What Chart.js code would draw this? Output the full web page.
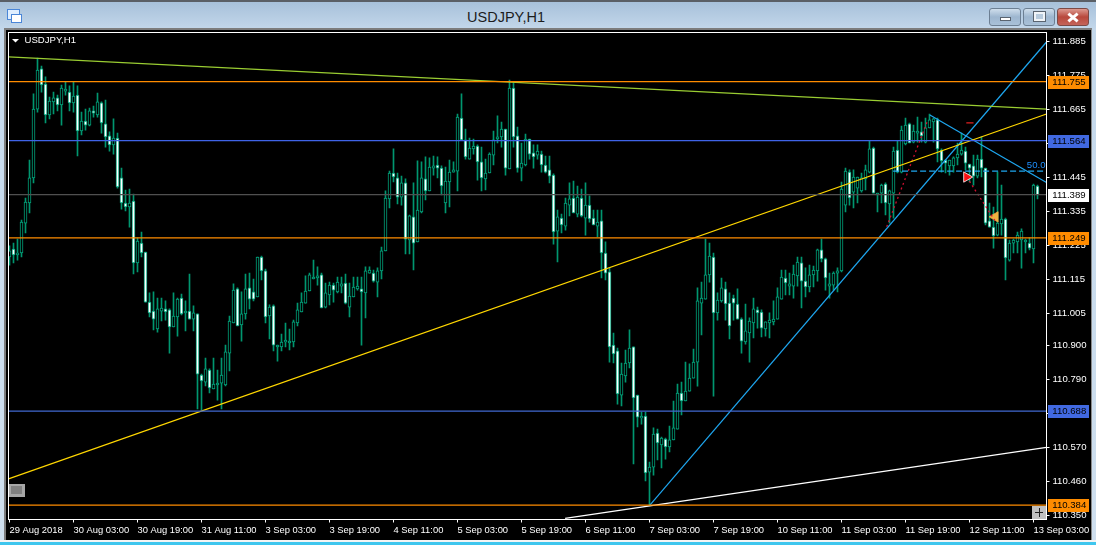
<!DOCTYPE html>
<html>
<head>
<meta charset="utf-8">
<title>USDJPY,H1</title>
<script src="https://cdn.jsdelivr.net/npm/chart.js@4/dist/chart.umd.min.js"></script>
<style>
  html, body { margin: 0; padding: 0; background: #c6d9ea; overflow: hidden; }
  #win { position: absolute; left: 0; top: 0; width: 1096px; height: 545px; overflow: hidden;
         background: linear-gradient(#a5bfd9 0, #c4d8eb 30px, #cfdfee 100%); }
  #topline { position: absolute; left: 0; top: 0; width: 1096px; height: 2px; background: #5a5f66; }
  #title { position: absolute; left: 0; top: 9px; width: 1012px; text-align: center;
           font: 14.5px "Liberation Sans", sans-serif; color: #1c1c1c; }
  #icon { position: absolute; left: 7px; top: 9px; width: 11px; height: 9px; border: 1px solid #4a86d8; background: #dfeeff; }
  #icon2 { position: absolute; left: 11px; top: 14px; width: 9px; height: 7px; border: 1px solid #4a86d8; background: #fff; }
  .btn { position: absolute; top: 8px; width: 30px; height: 16px; border: 1px solid #6c7f93; border-radius: 3px;
         background: linear-gradient(#cfdeec, #9db6cf 50%, #a9c1d8); }
  #close { background: linear-gradient(#dc9a90, #b8483c 50%, #c4645a); border-color: #7c4a46; }
  .ico { position: absolute; background: #fff; border: 1px solid #5a6470; }
  .xbar { position: absolute; left: 9px; top: 7px; width: 12px; height: 3px; background: #fff; }
  #inner { position: absolute; left: 4px; top: 28px; width: 1085px; height: 512px; background: #000;
           border-top: 2px solid #7d7d7d; border-left: 2px solid #7d7d7d; border-right: 1px solid #8a8a8a; }
  #white { position: absolute; left: 0; top: 540px; width: 1096px; height: 2px; background: #f4f4f4; }
  #cyan { position: absolute; left: 0; top: 542px; width: 1096px; height: 3px; background: #3fc6ee; }
  canvas { position: absolute; left: 0; top: 0; }
  #grip { position: absolute; left: 9px; top: 484px; width: 11px; height: 8px; background: #808080; border: 2px solid #a6a6a6; border-right-width: 3px; border-bottom-width: 3px; }
  #plus { position: absolute; left: 1032px; top: 506px; width: 14px; height: 13px; background: #c0c0c0; }
  #plus i { position: absolute; background: #222; }
</style>
</head>
<body>
<div id="win">
  <div id="topline"></div>
  <div id="icon"></div><div id="icon2"></div>
  <div id="title">USDJPY,H1</div>
  <div class="btn" style="left:989px"><div class="ico" style="left:10px;top:8px;width:9px;height:2px"></div></div>
  <div class="btn" style="left:1023px"><div class="ico" style="left:10px;top:3px;width:7px;height:5px;background:#b8cbdd;border:2px solid #f0f4f8;outline:1px solid #5a6470"></div></div>
  <div class="btn" id="close" style="left:1057px">
    <div class="xbar" style="transform:rotate(40deg)"></div>
    <div class="xbar" style="transform:rotate(-40deg)"></div>
  </div>
  <div id="inner"></div>
  <div id="white"></div><div id="cyan"></div>
  <canvas id="usdjpy-chart" width="1096" height="545"></canvas>
  <div id="grip"></div>
  <div id="plus"><i style="left:3px;top:6px;width:8px;height:1px"></i><i style="left:7px;top:2px;width:1px;height:9px"></i></div>
</div>
<script>
// USDJPY H1 candles (one value per hour bar)
const opens = [
  111.187,111.213,111.194,111.200,111.297,111.362,111.443,111.666,111.796,111.747,
  111.647,111.689,111.702,111.679,111.724,111.721,111.686,111.711,111.595,111.627,
  111.614,111.660,111.647,111.686,111.618,111.579,111.550,111.572,111.443,111.362,
  111.349,111.368,111.168,111.232,111.203,111.041,111.012,110.954,111.012,111.019,
  111.016,110.961,110.993,111.054,111.006,111.012,110.986,111.003,110.805,110.782,
  110.821,110.760,110.773,110.779,110.773,110.876,110.974,111.084,110.967,111.003,
  111.087,111.074,111.058,111.187,111.142,110.996,111.029,110.896,110.896,110.912,
  110.909,110.912,110.974,111.009,111.038,111.077,111.116,111.119,111.129,111.025,
  111.064,111.096,111.074,111.093,111.103,111.025,111.058,111.084,111.084,111.071,
  111.135,111.135,111.106,111.142,111.207,111.375,111.459,111.443,111.381,111.427,
  111.242,111.317,111.236,111.333,111.440,111.401,111.475,111.485,111.475,111.362,
  111.430,111.462,111.465,111.637,111.566,111.504,111.537,111.546,111.495,111.440,
  111.459,111.517,111.569,111.576,111.601,111.472,111.734,111.579,111.475,111.485,
  111.569,111.524,111.517,111.520,111.485,111.469,111.452,111.271,111.313,111.287,
  111.355,111.378,111.326,111.378,111.313,111.355,111.313,111.287,111.304,111.200,
  111.139,110.902,110.883,110.740,110.802,110.844,110.896,110.740,110.666,110.672,
  110.491,110.507,110.617,110.579,110.598,110.572,110.595,110.630,110.747,110.721,
  110.753,110.795,110.847,111.038,111.051,111.129,111.187,111.006,111.045,111.084,
  111.038,111.054,111.035,110.986,110.912,110.941,110.974,111.016,111.009,110.954,
  110.974,110.977,110.986,111.051,111.119,111.093,111.093,111.126,111.168,111.109,
  111.090,111.129,111.142,111.210,111.181,111.093,111.096,111.135,111.142,111.355,
  111.462,111.397,111.410,111.401,111.440,111.462,111.540,111.388,111.394,111.423,
  111.359,111.394,111.533,111.462,111.553,111.618,111.559,111.588,111.592,111.559,
  111.605,111.624,111.631,111.533,111.501,111.482,111.482,111.508,111.520,111.530,
  111.488,111.482,111.449,111.504,111.475,111.304,111.284,111.258,111.294,111.310,
  111.177,111.232,111.236,111.242,111.236,111.232,111.213,111.417
];
const highs = [
  111.223,111.232,111.245,111.307,111.378,111.501,111.715,111.831,111.805,111.770,
  111.705,111.721,111.711,111.744,111.754,111.741,111.754,111.741,111.656,111.666,
  111.669,111.676,111.718,111.689,111.695,111.592,111.634,111.588,111.475,111.404,
  111.407,111.391,111.249,111.268,111.203,111.071,111.074,111.054,111.054,111.045,
  111.019,111.071,111.054,111.067,111.045,111.132,111.029,111.003,110.808,110.860,
  110.825,110.860,110.821,110.860,110.902,110.996,111.100,111.087,111.074,111.132,
  111.135,111.116,111.187,111.190,111.148,111.032,111.032,110.902,110.938,110.973,
  110.954,110.983,111.038,111.071,111.126,111.135,111.177,111.155,111.135,111.103,
  111.106,111.103,111.122,111.122,111.132,111.103,111.122,111.122,111.122,111.155,
  111.155,111.145,111.152,111.219,111.401,111.465,111.537,111.459,111.449,111.440,
  111.323,111.427,111.498,111.495,111.511,111.508,111.514,111.511,111.482,111.478,
  111.501,111.495,111.650,111.715,111.601,111.572,111.569,111.550,111.543,111.504,
  111.524,111.595,111.644,111.624,111.601,111.760,111.754,111.608,111.556,111.585,
  111.569,111.550,111.550,111.530,111.514,111.514,111.456,111.339,111.326,111.378,
  111.427,111.433,111.417,111.407,111.427,111.385,111.339,111.339,111.339,111.236,
  111.152,110.941,110.892,110.844,110.886,110.951,110.896,110.740,110.685,110.685,
  110.523,110.634,110.630,110.604,110.601,110.640,110.721,110.776,110.782,110.847,
  110.841,110.889,111.087,111.106,111.245,111.232,111.200,111.071,111.119,111.106,
  111.071,111.064,111.084,110.990,111.035,110.990,111.054,111.025,111.016,110.977,
  111.006,111.045,111.087,111.145,111.145,111.135,111.161,111.187,111.187,111.152,
  111.161,111.158,111.213,111.245,111.184,111.135,111.139,111.152,111.430,111.475,
  111.469,111.469,111.446,111.459,111.485,111.563,111.543,111.394,111.423,111.427,
  111.404,111.543,111.563,111.611,111.637,111.621,111.614,111.640,111.624,111.637,
  111.650,111.637,111.637,111.537,111.501,111.501,111.511,111.556,111.588,111.543,
  111.488,111.517,111.517,111.576,111.475,111.362,111.349,111.462,111.420,111.313,
  111.242,111.245,111.268,111.278,111.245,111.249,111.423,111.420
];
const lows = [
  111.161,111.168,111.177,111.187,111.265,111.330,111.427,111.656,111.721,111.621,
  111.634,111.650,111.660,111.614,111.711,111.660,111.656,111.514,111.582,111.598,
  111.611,111.640,111.640,111.588,111.543,111.530,111.520,111.410,111.342,111.336,
  111.284,111.132,111.139,111.187,111.041,110.993,110.951,110.944,110.980,110.983,
  110.876,110.961,110.931,111.000,110.948,110.986,110.948,110.695,110.692,110.770,
  110.747,110.760,110.724,110.695,110.770,110.818,110.974,110.964,110.915,110.986,
  111.019,111.045,111.058,111.113,110.974,110.922,110.883,110.850,110.883,110.896,
  110.886,110.896,110.964,111.009,111.038,111.077,111.116,111.096,111.022,111.022,
  111.032,111.041,111.071,111.071,111.035,110.993,111.058,111.080,110.902,110.990,
  111.135,111.106,111.058,111.116,111.207,111.346,111.430,111.359,111.355,111.197,
  111.197,111.145,111.236,111.330,111.372,111.401,111.452,111.443,111.388,111.330,
  111.349,111.462,111.401,111.566,111.504,111.504,111.520,111.436,111.401,111.404,
  111.459,111.485,111.556,111.543,111.452,111.472,111.543,111.462,111.433,111.482,
  111.504,111.475,111.504,111.462,111.459,111.427,111.229,111.171,111.265,111.274,
  111.320,111.330,111.317,111.317,111.258,111.300,111.291,111.252,111.119,111.113,
  110.847,110.844,110.711,110.705,110.782,110.828,110.517,110.637,110.646,110.462,
  110.384,110.481,110.530,110.504,110.533,110.556,110.595,110.630,110.676,110.721,
  110.753,110.795,110.769,110.935,111.051,111.106,110.737,110.983,111.041,110.983,
  110.922,110.983,110.986,110.876,110.905,110.847,110.925,110.957,110.928,110.931,
  110.925,110.967,110.986,111.051,111.064,111.064,111.054,111.093,111.022,111.058,
  111.074,111.090,111.109,111.171,111.080,111.054,111.080,111.074,111.139,111.333,
  111.355,111.346,111.362,111.397,111.404,111.459,111.394,111.333,111.362,111.323,
  111.297,111.313,111.459,111.459,111.550,111.556,111.556,111.559,111.559,111.556,
  111.605,111.559,111.495,111.462,111.459,111.452,111.462,111.485,111.517,111.469,
  111.430,111.420,111.443,111.446,111.291,111.284,111.216,111.255,111.258,111.113,
  111.174,111.200,111.200,111.151,111.200,111.210,111.168,111.375
];
const closes = [
  111.207,111.194,111.200,111.300,111.365,111.443,111.666,111.792,111.744,111.647,
  111.692,111.702,111.679,111.734,111.731,111.686,111.708,111.595,111.627,111.614,
  111.660,111.653,111.689,111.621,111.576,111.550,111.572,111.414,111.362,111.349,
  111.362,111.168,111.239,111.200,111.041,111.006,110.986,111.019,111.022,111.009,
  110.961,110.996,111.051,111.003,111.012,110.986,111.006,110.808,110.786,110.825,
  110.763,110.776,110.779,110.805,110.880,110.980,111.080,110.964,111.003,111.084,
  111.051,111.051,111.187,111.142,110.993,111.025,110.902,110.902,110.912,110.918,
  110.915,110.977,111.016,111.041,111.077,111.129,111.122,111.126,111.022,111.071,
  111.096,111.080,111.106,111.100,111.038,111.061,111.090,111.093,111.074,111.142,
  111.145,111.109,111.142,111.207,111.378,111.459,111.446,111.381,111.427,111.245,
  111.320,111.232,111.339,111.443,111.401,111.478,111.482,111.475,111.417,111.433,
  111.462,111.469,111.640,111.566,111.511,111.540,111.546,111.495,111.443,111.459,
  111.520,111.566,111.576,111.601,111.475,111.734,111.576,111.475,111.491,111.569,
  111.520,111.511,111.530,111.485,111.462,111.449,111.268,111.317,111.291,111.362,
  111.375,111.330,111.381,111.320,111.355,111.310,111.291,111.300,111.200,111.135,
  110.896,110.873,110.744,110.808,110.844,110.892,110.731,110.669,110.672,110.488,
  110.507,110.614,110.585,110.601,110.572,110.595,110.634,110.747,110.721,110.753,
  110.795,110.847,111.045,111.054,111.129,111.190,111.006,111.048,111.087,111.035,
  110.964,111.038,110.986,110.915,110.948,110.980,111.019,111.006,110.957,110.977,
  110.983,110.986,111.058,111.122,111.103,111.100,111.132,111.171,111.109,111.090,
  111.129,111.145,111.210,111.181,111.119,111.100,111.135,111.142,111.407,111.465,
  111.378,111.446,111.446,111.443,111.469,111.537,111.394,111.394,111.420,111.362,
  111.401,111.530,111.462,111.598,111.614,111.556,111.595,111.595,111.579,111.605,
  111.631,111.634,111.537,111.498,111.491,111.501,111.508,111.520,111.533,111.491,
  111.475,111.449,111.504,111.475,111.297,111.284,111.255,111.297,111.310,111.184,
  111.232,111.242,111.258,111.271,111.242,111.216,111.420,111.388
];

// axis tick labels
const priceTicks = [111.885,111.775,111.665,111.555,111.445,111.335,111.225,111.115,111.005,110.900,110.790,110.680,110.570,110.460,110.350];
const timeLabels = ["29 Aug 2018","30 Aug 03:00","30 Aug 19:00","31 Aug 11:00","3 Sep 03:00","3 Sep 19:00","4 Sep 11:00","5 Sep 03:00","5 Sep 19:00","6 Sep 11:00","7 Sep 03:00","7 Sep 19:00","10 Sep 11:00","11 Sep 03:00","11 Sep 19:00","12 Sep 11:00","13 Sep 03:00"];
const barsPerLabel = 16;

// horizontal levels with their price tags on the right
const levels = [111.755,111.564,111.389,111.249,110.688,110.384];

// trend lines as [bar, price] ends
const greenLine = [[-0.25,111.835],[259.25,111.666]];
const goldLine = [[-0.25,110.469],[259.25,111.650]];
const blueUpLine = [[160.1,110.384],[259.25,111.883]];
const blueDownLine = [[230.1,111.647],[259.25,111.428]];
const whiteLine = [[138.9,110.341],[259.25,110.571]];
const fiftyLine = [[220.9,111.465],[259.25,111.465]];
const redLineA = [[219.3,111.285],[229.6,111.631]];
const redLineB = [[239.3,111.446],[246.4,111.304]];
const redDash = [[239.2,111.621],[241,111.621]];
const buyArrow = [[239.3,111.446]];
const sellArrow = [[246.4,111.317]];

const font = '"Liberation Sans", sans-serif';
const wickColor = "#00966f";
const bodyColor = "#00a57c";

function toPoints(line) {
  return line.map((p) => ({ x: p[0], y: p[1] }));
}

function lineSet(line, color, width, extra) {
  return Object.assign({
    type: "line",
    data: toPoints(line),
    borderColor: color,
    borderWidth: width,
    pointRadius: 0,
    tension: 0,
    order: 0,
  }, extra);
}

function arrowSet(point, color, rotation, edge) {
  return {
    type: "line",
    data: toPoints(point),
    showLine: false,
    pointStyle: "triangle",
    pointRotation: rotation,
    pointRadius: 6,
    pointBackgroundColor: color,
    pointBorderColor: edge,
    pointBorderWidth: 0.8,
    order: 0,
  };
}

const levelColors = ["#ff8c00","#3f63e6","#505050","#ff8c00","#4169d0","#ff8c00"];
const tagColors = ["#ff8c00","#4169e1","#ffffff","#ff8c00","#4169e1","#ff8c00"];

const levelSets = levels.map((price, i) =>
  lineSet([[-0.25, price],[259.25, price]], levelColors[i], 1.2)
);

// draws the white frame, the price tags and the small texts on top of the chart
const overlayPlugin = {
  id: "overlay",
  afterDraw(chart) {
    const ctx = chart.ctx;
    const area = chart.chartArea;
    const yScale = chart.scales.y;
    const xScale = chart.scales.x;

    ctx.save();
    ctx.strokeStyle = "#ffffff";
    ctx.lineWidth = 1;
    ctx.strokeRect(area.left, area.top, area.right - area.left, area.bottom - area.top);

    // price tags
    ctx.textBaseline = "middle";
    ctx.textAlign = "left";
    ctx.font = "9.6px " + font;
    levels.forEach((price, i) => {
      const y = Math.round(yScale.getPixelForValue(price));
      ctx.fillStyle = tagColors[i];
      ctx.fillRect(1048, y - 6, 41, 13);
      ctx.fillStyle = "#000000";
      ctx.fillText(price.toFixed(3), 1052.3, y + 0.5);
    });

    // chart name in the top left corner
    ctx.fillStyle = "#ffffff";
    ctx.beginPath();
    ctx.moveTo(12, 39);
    ctx.lineTo(19, 39);
    ctx.lineTo(15.5, 42.5);
    ctx.fill();
    ctx.fillText("USDJPY,H1", 24.5, 40.5);

    // fibo label
    ctx.fillStyle = "#1e90ff";
    ctx.textAlign = "right";
    ctx.fillText("50.0", xScale.getPixelForValue(259), yScale.getPixelForValue(111.465) - 5.5);
    ctx.restore();
  },
};

new Chart(document.getElementById("usdjpy-chart"), {
  type: "bar",
  plugins: [overlayPlugin],
  data: {
    datasets: [
      ...levelSets,
      lineSet(greenLine, "#9acd32", 1.2),
      lineSet(goldLine, "#ffd700", 1.2),
      lineSet(blueUpLine, "#1ea7f0", 1.2),
      lineSet(blueDownLine, "#1ea7f0", 1.2),
      lineSet(whiteLine, "#ffffff", 1.2),
      lineSet(fiftyLine, "#1ea7f0", 1.2, { borderDash: [6, 3] }),
      lineSet(redLineA, "#d01030", 1.3, { borderDash: [2, 3] }),
      lineSet(redLineB, "#d01030", 1.3, { borderDash: [2, 3] }),
      lineSet(redDash, "#e02020", 1.2),
      arrowSet(buyArrow, "#ff1010", 90, "#ffffff"),
      arrowSet(sellArrow, "#f0b040", -90, "#f0b040"),
      {
        // candle bodies: white inside when price fell, black when it rose
        data: opens.map((o, i) => ({ x: i, y: [Math.min(o, closes[i]), Math.max(o, closes[i])] })),
        grouped: false,
        barThickness: 3,
        borderWidth: 1,
        borderSkipped: false,
        borderColor: bodyColor,
        backgroundColor: opens.map((o, i) => (closes[i] < o ? "#ffffff" : "#000000")),
        order: 1,
      },
      {
        // candle wicks
        data: lows.map((l, i) => ({ x: i, y: [l, highs[i]] })),
        grouped: false,
        barThickness: 1,
        backgroundColor: wickColor,
        borderWidth: 0,
        order: 2,
      },
    ],
  },
  options: {
    responsive: false,
    animation: false,
    devicePixelRatio: 1,
    layout: { padding: { left: 8.5, top: 32.5, right: 0, bottom: 0 } },
    plugins: { legend: { display: false }, tooltip: { enabled: false } },
    scales: {
      x: {
        type: "linear",
        offset: false,
        min: -0.25,
        max: 259.25,
        grid: { offset: false, drawOnChartArea: false, color: "#ffffff", tickLength: 3 },
        border: { color: "#ffffff" },
        afterBuildTicks(scale) {
          scale.ticks = timeLabels.map((label, i) => ({ value: i * barsPerLabel }));
        },
        afterFit(scale) {
          scale.height = 25.5;
        },
        ticks: {
          autoSkip: false,
          maxRotation: 0,
          align: "start",
          padding: 2,
          color: "#ffffff",
          font: { family: font, size: 9.4 },
          callback: (value) => timeLabels[value / barsPerLabel],
        },
      },
      y: {
        position: "right",
        min: 110.3374,
        max: 111.9138,
        grid: { drawOnChartArea: false, color: "#ffffff", tickLength: 3 },
        border: { color: "#ffffff" },
        afterBuildTicks(scale) {
          scale.ticks = priceTicks.map((value) => ({ value }));
        },
        afterFit(scale) {
          scale.width = 49.5;
        },
        ticks: {
          autoSkip: false,
          padding: 3,
          color: "#ffffff",
          font: { family: font, size: 9.6 },
          callback: (value) => value.toFixed(3),
        },
      },
    },
  },
});
</script>
</body>
</html>
